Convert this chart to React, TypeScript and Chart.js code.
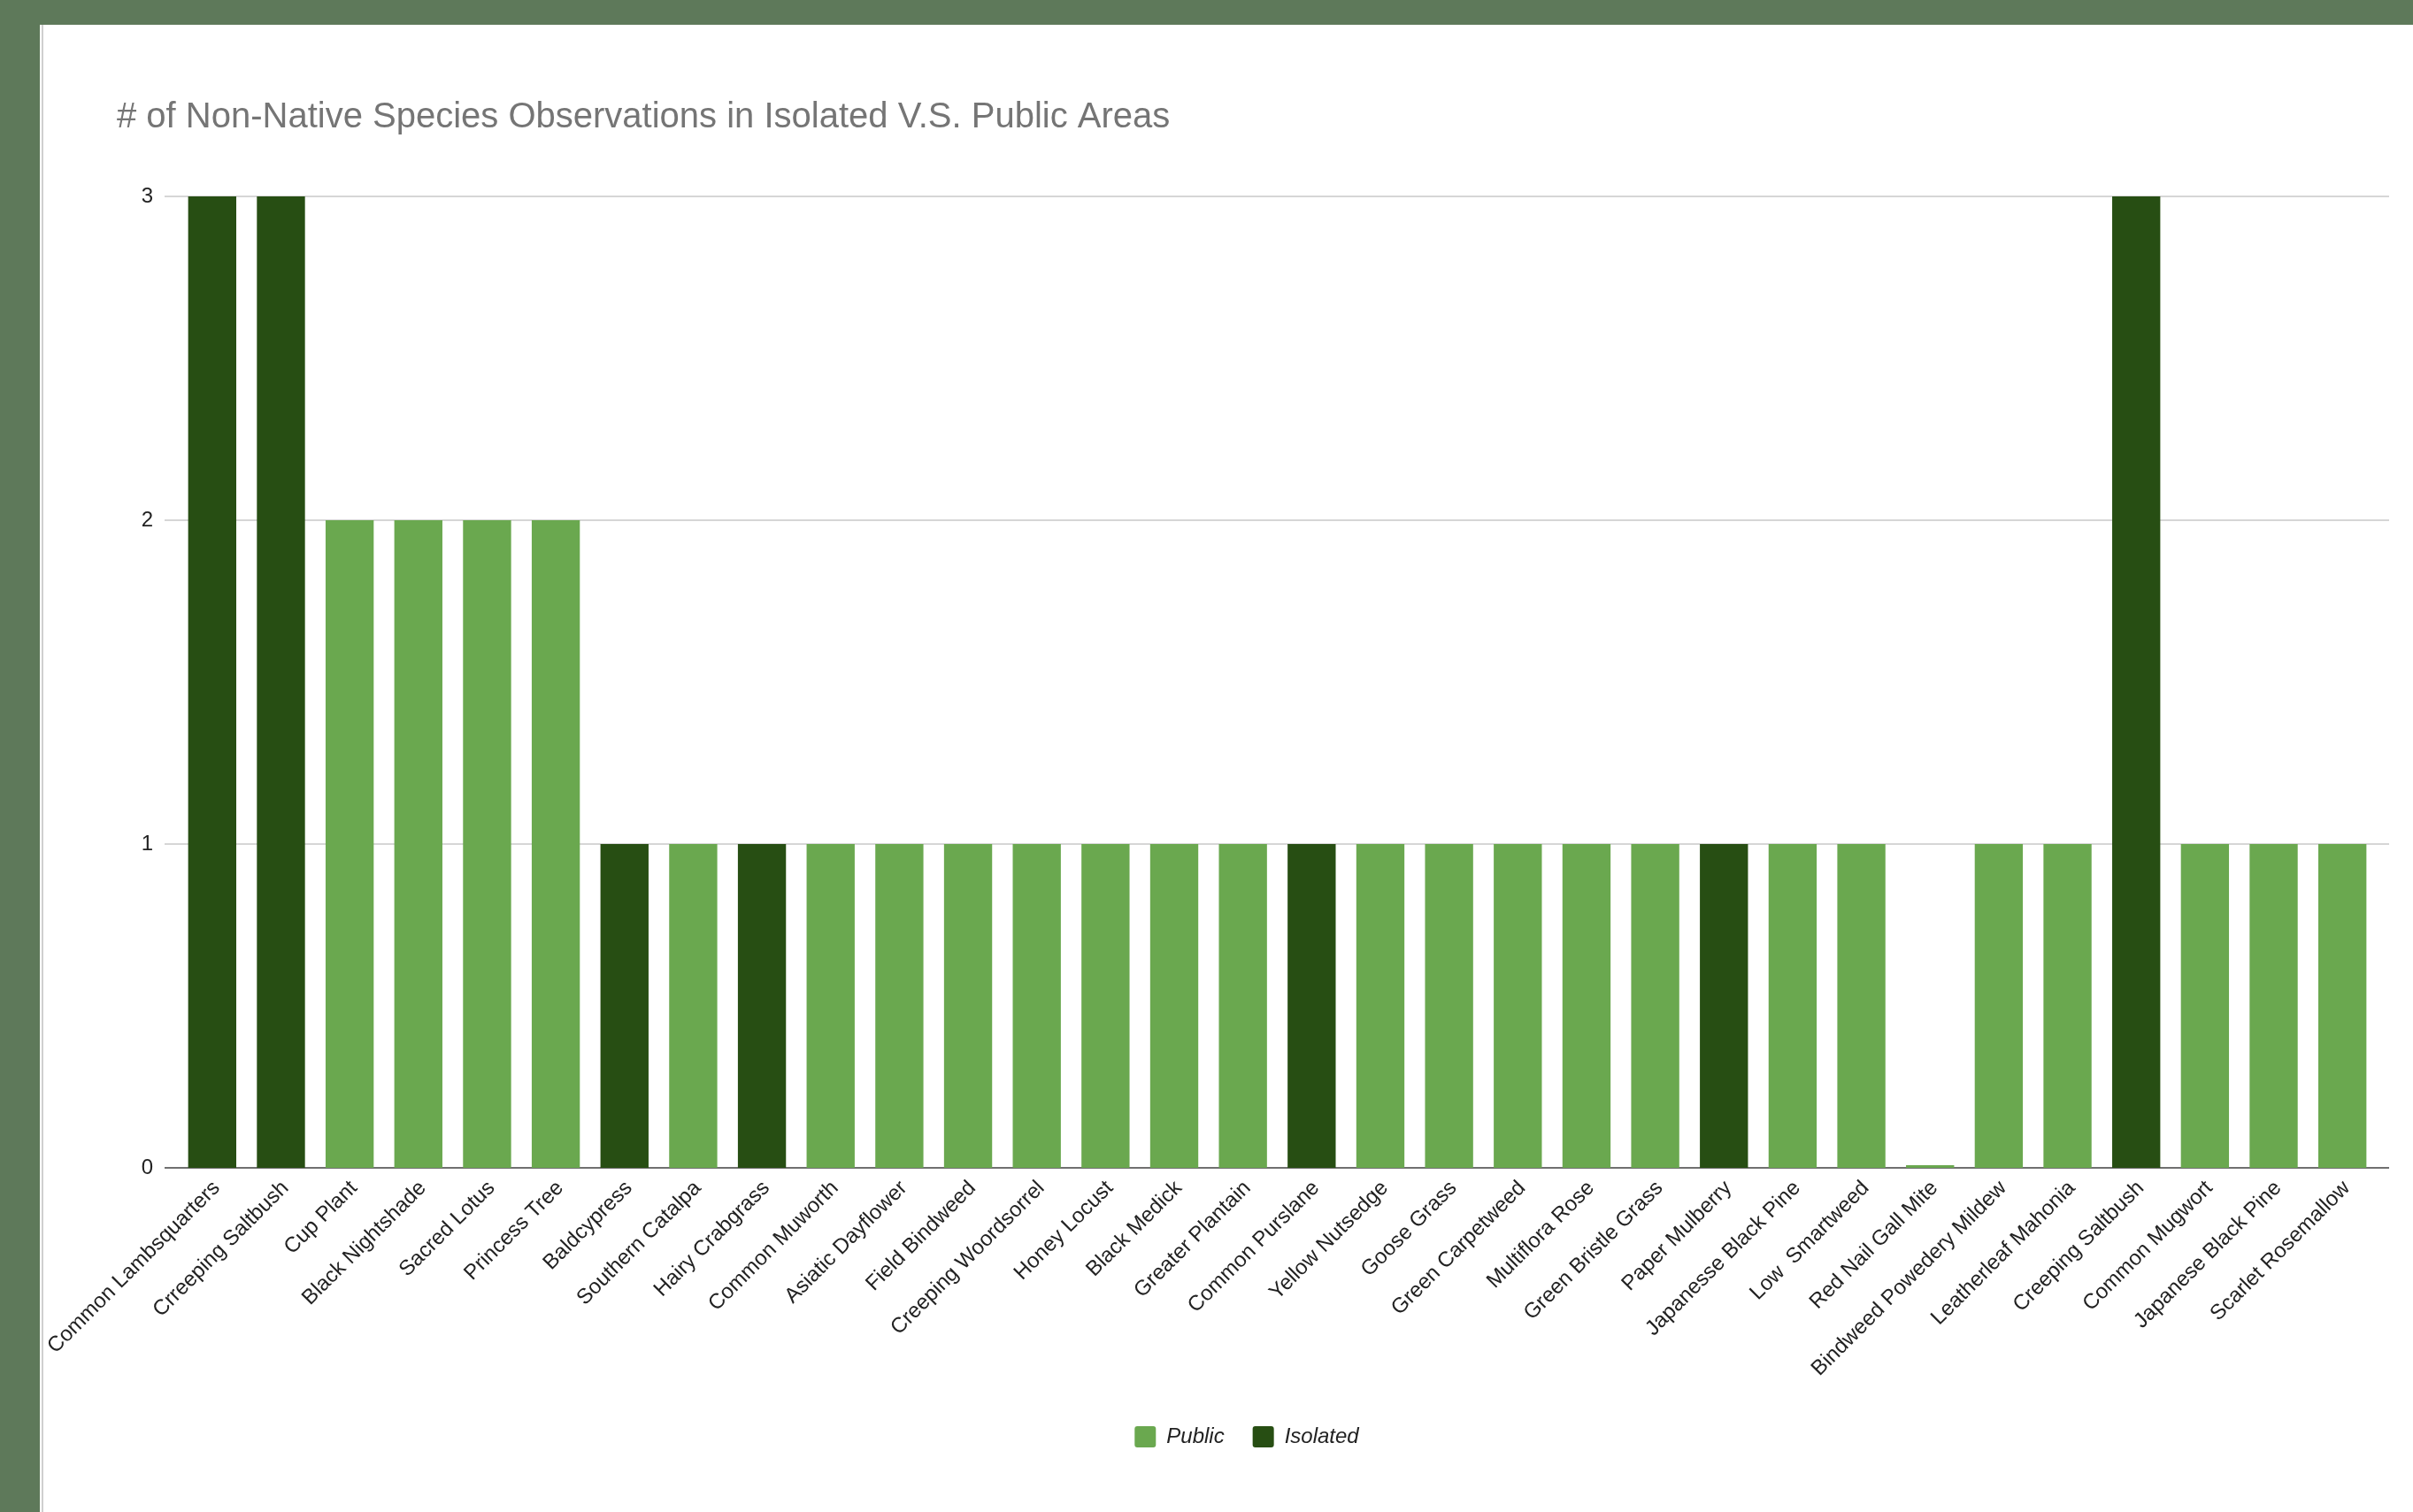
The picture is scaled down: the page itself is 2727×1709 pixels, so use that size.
import React, { useEffect, useRef } from "react";
import { Chart, registerables } from "chart.js";

Chart.register(...registerables);

const chartTitle = "# of Non-Native Species Observations in Isolated V.S. Public Areas";

const categories = [
  "Common Lambsquarters",
  "Crreeping Saltbush",
  "Cup Plant",
  "Black Nightshade",
  "Sacred Lotus",
  "Princess Tree",
  "Baldcypress",
  "Southern Catalpa",
  "Hairy Crabgrass",
  "Common Muworth",
  "Asiatic Dayflower",
  "Field Bindweed",
  "Creeping Woordsorrel",
  "Honey Locust",
  "Black Medick",
  "Greater Plantain",
  "Common Purslane",
  "Yellow Nutsedge",
  "Goose Grass",
  "Green Carpetweed",
  "Multiflora Rose",
  "Green Bristle Grass",
  "Paper Mulberry",
  "Japanesse Black Pine",
  "Low  Smartweed",
  "Red Nail Gall Mite",
  "Bindweed Powedery Mildew",
  "Leatherleaf Mahonia",
  "Creeping Saltbush",
  "Common Mugwort",
  "Japanese Black Pine",
  "Scarlet Rosemallow",
];

const publicCounts = [
  null, null, 2, 2, 2, 2, null, 1, null, 1, 1, 1, 1, 1, 1, 1,
  null, 1, 1, 1, 1, 1, null, 1, 1, 0, 1, 1, null, 1, 1, 1,
];

const isolatedCounts = [
  3, 3, null, null, null, null, 1, null, 1, null, null, null, null, null, null, null,
  1, null, null, null, null, null, 1, null, null, null, null, null, 3, null, null, null,
];

const yTicks = [0, 1, 2, 3];

const seriesNames = ["Public", "Isolated"];
const seriesColors = ["#6aa84f", "#274e13"];

const FONT = "'Liberation Sans', Arial, Helvetica, sans-serif";

export default function App() {
  const ref = useRef<HTMLCanvasElement>(null);

  useEffect(() => {
    document.body.style.margin = "0";
    const canvas = ref.current;
    if (!canvas) return;

    const gridPlugin = {
      id: "sheetGrid",
      beforeDatasetsDraw(chart: any) {
        const { ctx, chartArea, scales } = chart;
        const y = scales.y;
        ctx.save();
        for (const v of yTicks) {
          const py = Math.round(y.getPixelForValue(v));
          ctx.strokeStyle = v === 0 ? "#707070" : "#d6d6d6";
          ctx.lineWidth = 2;
          ctx.beginPath();
          ctx.moveTo(chartArea.left - 15, py);
          ctx.lineTo(chartArea.right + 14, py);
          ctx.stroke();
        }
        ctx.restore();
      },
    };

    const chart = new Chart(canvas, {
      type: "bar",
      data: {
        labels: categories,
        datasets: [
          {
            label: seriesNames[0],
            data: publicCounts as any,
            backgroundColor: seriesColors[0],
            borderColor: seriesColors[0],
            borderWidth: 0,
            minBarLength: 3,
            barPercentage: 0.7,
            categoryPercentage: 1,
          },
          {
            label: seriesNames[1],
            data: isolatedCounts as any,
            backgroundColor: seriesColors[1],
            borderColor: seriesColors[1],
            borderWidth: 0,
            barPercentage: 0.7,
            categoryPercentage: 1,
          },
        ],
      },
      options: {
        responsive: false,
        animation: false,
        layout: { padding: { left: 87, right: 41, top: 0, bottom: 63 } },
        plugins: {
          title: {
            display: true,
            text: chartTitle,
            align: "start",
            color: "#757575",
            font: { family: FONT, size: 40, weight: "normal" },
            padding: { top: 81, bottom: 65 },
          },
          legend: {
            position: "bottom",
            labels: {
              boxWidth: 24,
              boxHeight: 24,
              padding: 32,
              useBorderRadius: true,
              borderRadius: 3,
              color: "#222222",
              font: { family: FONT, size: 24, style: "italic" },
            },
          },
          tooltip: { enabled: false },
        },
        scales: {
          x: {
            stacked: true,
            offset: true,
            grid: { display: false, drawTicks: false },
            border: { display: false },
            ticks: {
              autoSkip: false,
              maxRotation: 45,
              minRotation: 45,
              padding: 9,
              labelOffset: 5,
              color: "#222222",
              font: { family: FONT, size: 24 },
            },
            afterFit: (s: any) => {
              s.height = 260;
              s.paddingLeft = 0;
              s.paddingRight = 0;
            },
          },
          y: {
            stacked: true,
            min: 0,
            max: 3,
            grid: { display: false, drawTicks: false },
            border: { display: false },
            ticks: {
              stepSize: 1,
              padding: 28,
              color: "#222222",
              font: { family: FONT, size: 24 },
            },
            afterFit: (s: any) => {
              s.width = 69;
            },
          },
        },
      },
      plugins: [gridPlugin],
    } as any);

    return () => chart.destroy();
  }, []);

  return (
    <div
      style={{
        position: "absolute",
        left: 0,
        top: 0,
        width: 2727,
        height: 1709,
        background: "#5e795a",
        overflow: "hidden",
      }}
    >
      <div
        style={{
          position: "absolute",
          left: 45,
          top: 28,
          width: 2682,
          height: 1681,
          background: "#ffffff",
        }}
      >
        <div
          style={{
            position: "absolute",
            left: 2,
            top: 0,
            width: 2,
            height: 1681,
            background: "#cfcfcf",
          }}
        />
        <canvas
          ref={ref}
          width={2682}
          height={1681}
          style={{ position: "absolute", left: 0, top: 0, width: 2682, height: 1681 }}
        />
      </div>
    </div>
  );
}
